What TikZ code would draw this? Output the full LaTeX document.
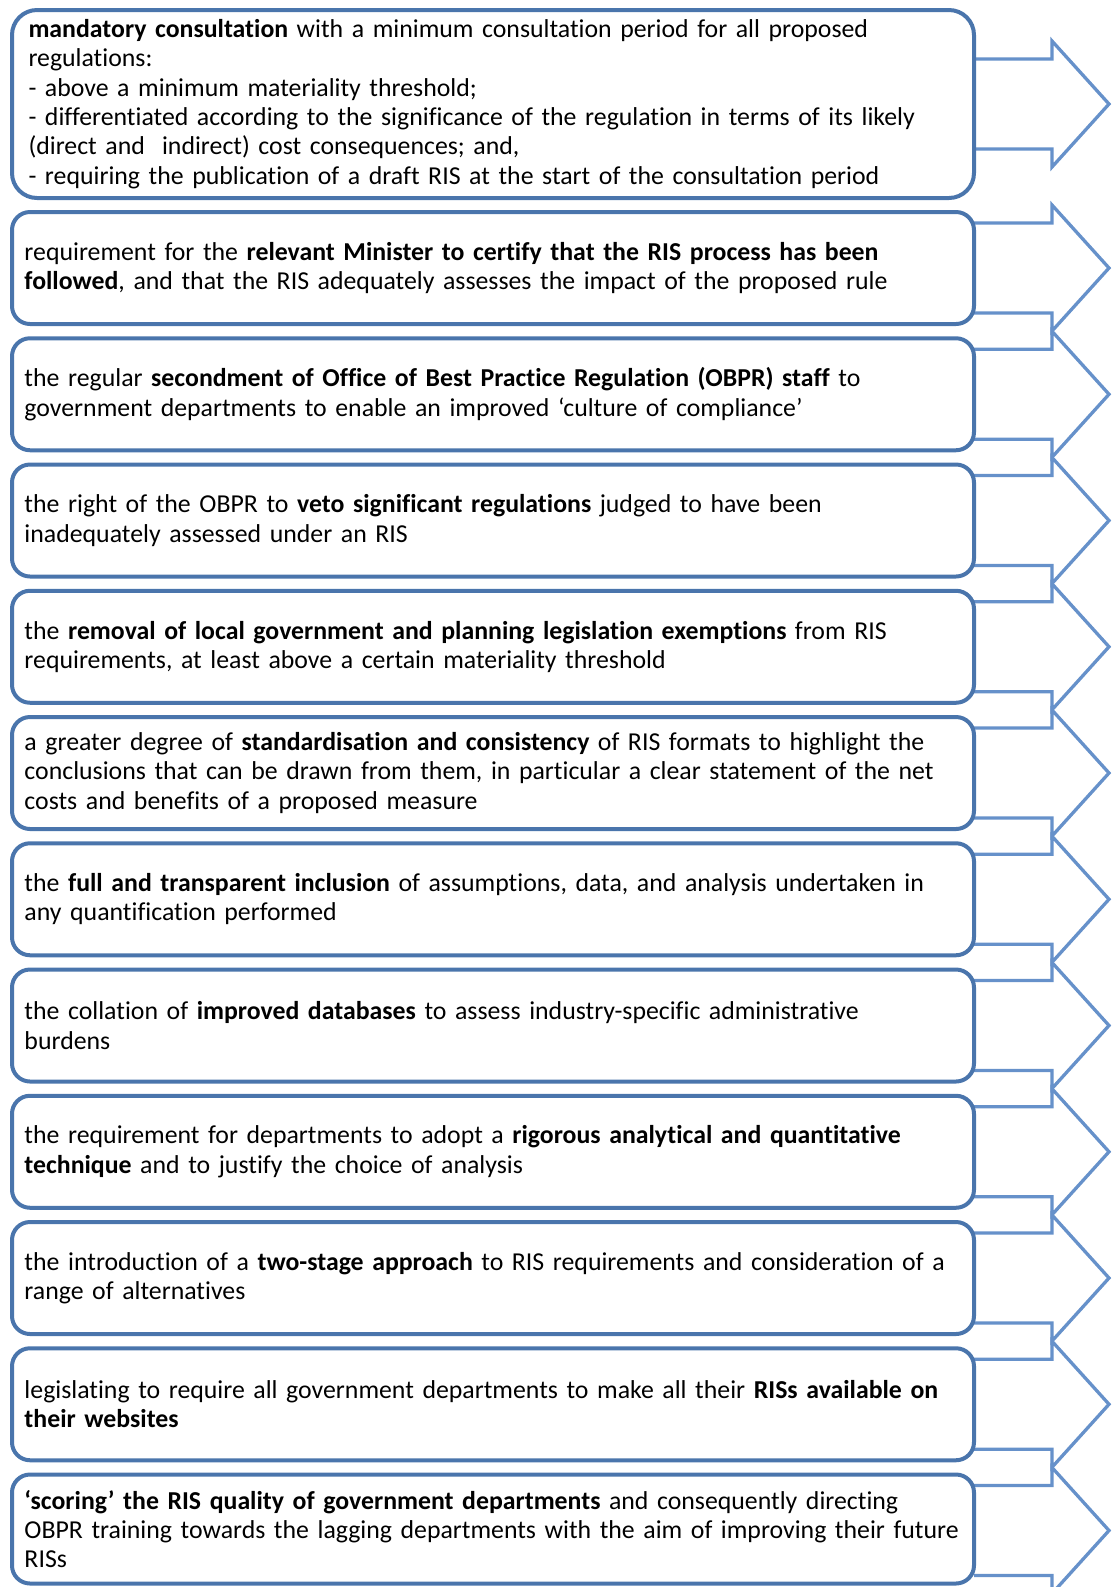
\documentclass[tikz,border=0pt]{standalone}
\usepackage{fontspec}
\setmainfont[Ligatures=NoCommon]{Carlito}
\definecolor{boxblue}{RGB}{74,117,172}
\definecolor{arrblue}{RGB}{102,145,202}
\tikzset{
  box/.style={draw=boxblue, line width=2pt, fill=white, rounded corners=9pt,
    minimum width=481pt, minimum height=56pt, inner xsep=6.25pt, inner ysep=0pt,
    text width=468.5pt, align=left,
    font=\fontsize{12.9pt}{14.65pt}\selectfont},
  firstbox/.style={box, rounded corners=12.5pt, minimum height=94pt, inner xsep=8.25pt, text width=464.5pt},
  arr/.style={draw=arrblue, line width=1.65pt, line join=miter},
}
\begin{document}
\begin{tikzpicture}[x=0.5pt,y=-0.5pt]
\useasboundingbox (0,0) rectangle (1112,1587);
% arrows first (drawn behind boxes)
\coordinate (a1) at (974,104);
\foreach \i in {2,...,12} {
  \coordinate (a\i) at (974,{268+(\i-2)*126.25});
}
\foreach \i in {1,...,12} {
  \draw[arr] (a\i) ++(0,-45) -- ++(78,0) -- ++(0,-18) -- ++(57,63) -- ++(-57,63) -- ++(0,-18) -- ++(-78,0);
}
\node[firstbox] (b1) at (493,104) {\textbf{mandatory consultation} with a minimum consultation period for all proposed\\ regulations:\\ - above a minimum materiality threshold;\\ - differentiated according to the significance of the regulation in terms of its likely\\ (direct and\ \ indirect) cost consequences; and,\\ - requiring the publication of a draft RIS at the start of the consultation period};
\node[box] (b2) at (493,268) {requirement for the \textbf{relevant Minister to certify that the RIS process has been}\\ \textbf{followed}, and that the RIS adequately assesses the impact of the proposed rule};
\node[box] (b3) at (493,394.25) {the regular \textbf{secondment of Office of Best Practice Regulation (OBPR) staff} to\\ government departments to enable an improved ‘culture of compliance’};
\node[box] (b4) at (493,520.5) {the right of the OBPR to \textbf{veto significant regulations} judged to have been\\ inadequately assessed under an RIS};
\node[box] (b5) at (493,646.75) {the \textbf{removal of local government and planning legislation exemptions} from RIS\\ requirements, at least above a certain materiality threshold};
\node[box] (b6) at (493,773) {a greater degree of \textbf{standardisation and consistency} of RIS formats to highlight the\\ conclusions that can be drawn from them, in particular a clear statement of the net\\ costs and benefits of a proposed measure};
\node[box] (b7) at (493,899.25) {the \textbf{full and transparent inclusion} of assumptions, data, and analysis undertaken in\\ any quantification performed};
\node[box] (b8) at (493,1025.5) {the collation of \textbf{improved databases} to assess industry-specific administrative\\ burdens};
\node[box] (b9) at (493,1151.75) {the requirement for departments to adopt a \textbf{rigorous analytical and quantitative}\\ \textbf{technique} and to justify the choice of analysis};
\node[box] (b10) at (493,1278) {the introduction of a \textbf{two-stage approach} to RIS requirements and consideration of a\\ range of alternatives};
\node[box] (b11) at (493,1404.25) {legislating to require all government departments to make all their \textbf{RISs available on}\\ \textbf{their websites}};
\node[box, minimum height=54.5pt] (b12) at (493,1529) {\textbf{‘scoring’ the RIS quality of government departments} and consequently directing\\ OBPR training towards the lagging departments with the aim of improving their future\\ RISs};
\end{tikzpicture}
\end{document}
